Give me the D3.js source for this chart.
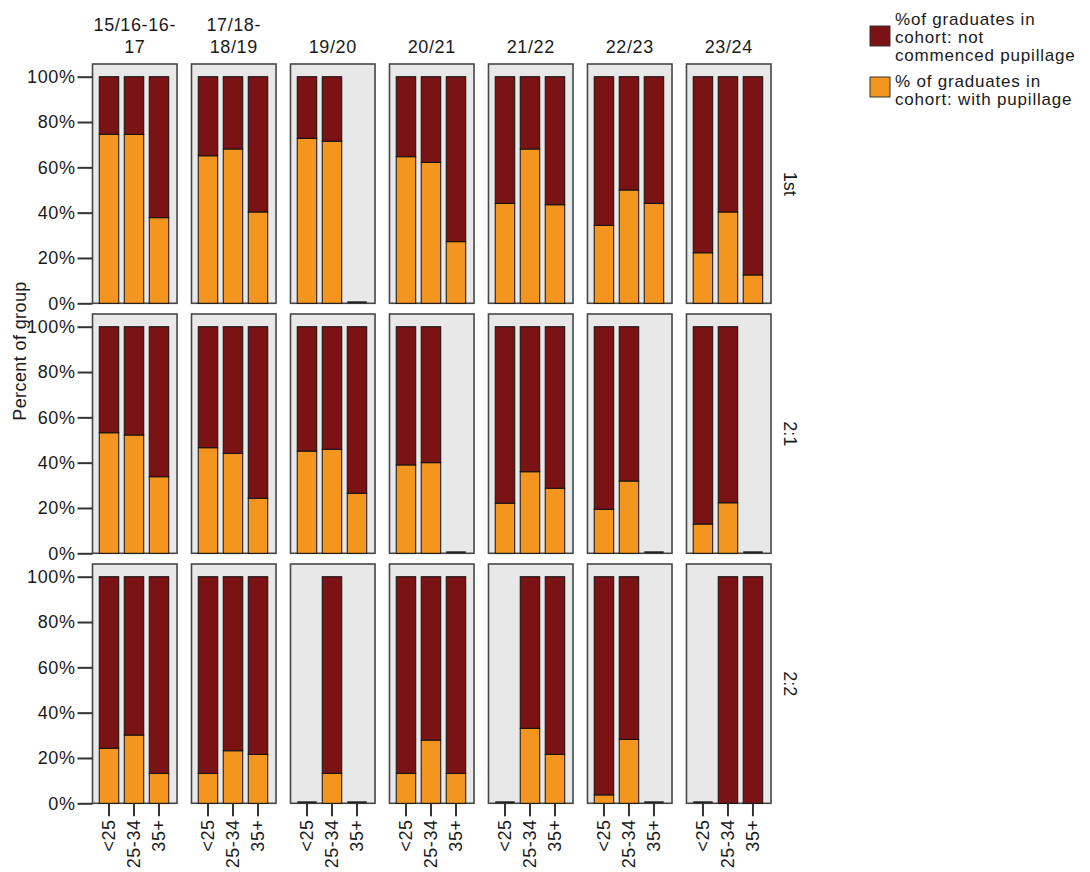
<!DOCTYPE html>
<html><head><meta charset="utf-8">
<script src="https://cdn.jsdelivr.net/npm/d3@7"></script>
<style>
body{margin:0;background:#fff;}
text{font-family:"Liberation Sans",Arial,sans-serif;fill:#1a1a1a;}
</style></head>
<body>
<svg id="chart" width="1090" height="872"></svg>
<script>
// ---- data ----
const cohorts = ["15/16-16-17","17/18-18/19","19/20","20/21","21/22","22/23","23/24"];
const cohortHeaderLines = [["15/16-16-","17"],["17/18-","18/19"],["19/20"],["20/21"],["21/22"],["22/23"],["23/24"]];
const degreeClasses = ["1st","2:1","2:2"];
const ageGroups = ["<25","25-34","35+"];
const yTicks = [0,20,40,60,80,100];
const seriesNames = ["% of graduates in cohort: with pupillage","%of graduates in cohort: not commenced pupillage"];

// % with pupillage (null = no graduates in group)
const withPupillage1st = [[74.6,74.5,37.8],[65.1,68.1,40.3],[72.8,71.5,null],[64.7,62.2,27.2],[44.1,68.1,43.5],[34.4,50.0,44.1],[22.3,40.3,12.5]];
const withPupillage21  = [[53.2,52.2,33.8],[46.6,44.1,24.3],[45.1,45.9,26.5],[39.0,40.0,null],[22.1,36.0,28.7],[19.4,31.9,null],[12.9,22.3,null]];
const withPupillage22  = [[24.3,30.1,13.2],[13.2,23.2,21.6],[null,13.2,null],[13.2,27.9,13.2],[null,33.1,21.6],[3.7,28.2,null],[null,0,0]];
// % not commenced pupillage
const notCommenced1st = [[25.4,25.5,62.2],[34.9,31.9,59.7],[27.2,28.5,null],[35.3,37.8,72.8],[55.9,31.9,56.5],[65.6,50.0,55.9],[77.7,59.7,87.5]];
const notCommenced21  = [[46.8,47.8,66.2],[53.4,55.9,75.7],[54.9,54.1,73.5],[61.0,60.0,null],[77.9,64.0,71.3],[80.6,68.1,null],[87.1,77.7,null]];
const notCommenced22  = [[75.7,69.9,86.8],[86.8,76.8,78.4],[null,86.8,null],[86.8,72.1,86.8],[null,66.9,78.4],[96.3,71.8,null],[null,100,100]];

const withByClass = [withPupillage1st, withPupillage21, withPupillage22];
const notByClass = [notCommenced1st, notCommenced21, notCommenced22];

// ---- drawing ----
const colorWith = "#F3951F", colorNot = "#7B1315";
const svg = d3.select("#chart");
const fontSize = 18;

const colX = d3.scaleBand().domain(cohorts).range([92.5, 771]).paddingInner(0.146).paddingOuter(0);
const rowY = d3.scaleBand().domain(degreeClasses).range([64, 803.3]).paddingInner(0.0428).paddingOuter(0);
const ageX = d3.scaleBand().domain(ageGroups).range([4, 79]).paddingInner(0.22).paddingOuter(0.11);
const plotH = 226.6;

degreeClasses.forEach((dc, ri) => {
  const top = rowY(dc), bottom = top + rowY.bandwidth();
  const y = d3.scaleLinear().domain([0,100]).range([bottom, bottom - plotH]);

  cohorts.forEach((co, ci) => {
    const gx = colX(co);
    const g = svg.append("g").attr("transform", `translate(${gx},0)`);
    g.append("rect").attr("x",0).attr("y",top).attr("width",colX.bandwidth()).attr("height",rowY.bandwidth())
      .attr("fill","#e8e8e8").attr("stroke","#474747").attr("stroke-width",1.6);

    const rows = ageGroups.map((a, ai) => ({age:a, with:withByClass[ri][ci][ai], not:notByClass[ri][ci][ai]}));
    const present = rows.filter(d => d.with !== null);
    const stack = d3.stack().keys(["with","not"])(present);
    const colors = {with:colorWith, not:colorNot};
    stack.forEach(layer => {
      g.selectAll(null).data(layer.filter(d => d[1] - d[0] > 0)).join("rect")
        .attr("x", d => ageX(d.data.age))
        .attr("width", ageX.bandwidth())
        .attr("y", d => y(d[1]))
        .attr("height", d => y(d[0]) - y(d[1]))
        .attr("fill", colors[layer.key])
        .attr("stroke", "#111").attr("stroke-width", 1);
    });
    // empty groups: short line at zero
    g.selectAll(null).data(rows.filter(d => d.with === null)).join("line")
      .attr("x1", d => ageX(d.age)).attr("x2", d => ageX(d.age) + ageX.bandwidth())
      .attr("y1", y(0) - 1).attr("y2", y(0) - 1)
      .attr("stroke", "#222").attr("stroke-width", 2);

    if (ri === degreeClasses.length - 1) {
      const ax = g.append("g").attr("transform", `translate(0,${bottom})`)
        .call(d3.axisBottom(ageX).tickSize(13).tickSizeOuter(0));
      ax.select(".domain").remove();
      ax.selectAll(".tick line").attr("stroke","#333").attr("stroke-width",2);
      ax.selectAll(".tick text")
        .attr("transform","rotate(-90)")
        .attr("x", -16).attr("y", 0).attr("dy","0.35em")
        .attr("text-anchor","end")
        .style("font-size", fontSize+"px").style("letter-spacing","0.6px")
        .style("font-family","'Liberation Sans',Arial,sans-serif").attr("fill","#1a1a1a");
    }
  });

  // y axis
  const ay = svg.append("g").attr("transform", `translate(${colX(cohorts[0])},0)`)
    .call(d3.axisLeft(y).tickValues(yTicks).tickFormat(d => d + "%").tickSize(15).tickPadding(2));
  ay.select(".domain").remove();
  ay.selectAll(".tick line").attr("stroke","#333").attr("stroke-width",2);
  ay.selectAll(".tick text").style("font-size", fontSize+"px").style("letter-spacing","0.6px")
    .style("font-family","'Liberation Sans',Arial,sans-serif").attr("fill","#1a1a1a");

  // row label
  svg.append("text")
    .attr("transform", `translate(790,${top + rowY.bandwidth()/2}) rotate(90)`)
    .attr("text-anchor","middle").attr("dy","0.35em")
    .style("font-size", fontSize+"px").text(dc);
});

// column headers
cohorts.forEach((co, ci) => {
  const lines = cohortHeaderLines[ci];
  const cx = colX(co) + colX.bandwidth()/2;
  lines.forEach((ln, li) => {
    svg.append("text").attr("x", cx).attr("y", 53 - (lines.length - 1 - li) * 22)
      .attr("text-anchor","middle").style("font-size", fontSize+"px").style("letter-spacing","0.6px").text(ln);
  });
});

// y axis title
svg.append("text").attr("transform","translate(20,351) rotate(-90)")
  .attr("text-anchor","middle").attr("dy","0.35em")
  .style("font-size", fontSize+"px").style("letter-spacing","0.4px").text("Percent of group");

// legend
const legendItems = [
  {color: colorNot, lines: ["%of graduates in","cohort: not","commenced pupillage"], boxY: 26, baseY: 25},
  {color: colorWith, lines: ["% of graduates in","cohort: with pupillage"], boxY: 77, baseY: 87}
];
legendItems.forEach(it => {
  svg.append("rect").attr("x",870).attr("y",it.boxY).attr("width",20).attr("height",20)
    .attr("fill",it.color).attr("stroke","#333").attr("stroke-width",1);
  it.lines.forEach((ln, li) => {
    svg.append("text").attr("x",895).attr("y", it.baseY + li*18)
      .style("font-size", "17px").style("letter-spacing","0.8px").text(ln);
  });
});
</script>
</body></html>
